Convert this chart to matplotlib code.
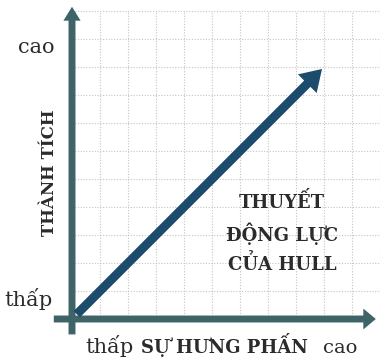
import matplotlib
matplotlib.use("Agg")
import matplotlib.pyplot as plt
from matplotlib.patches import FancyArrowPatch

# Hull's drive theory: performance rises linearly with arousal
# (units = grid cells, 0 = low, 9 = high)
arousal = [0, 9]
performance = [0, 9]
grid_x = list(range(1, 12))
grid_y = list(range(1, 12))

title = "THUYẾT\nĐỘNG LỰC\nCỦA HULL"
x_label = "SỰ HƯNG PHẤN"
y_label = "THÀNH TÍCH"
low_label = "thấp"
high_label = "cao"

axis_color = "#3e6467"
line_color = "#1b4c6c"
text_color = "#2b2b2b"
font = "DejaVu Serif"

fig = plt.figure(figsize=(3.8, 3.59), dpi=100)
ax = fig.add_axes([0, 0, 1, 1])
ax.set_xlim(-72 / 28, 308 / 28)
ax.set_ylim(-40 / 28, 319 / 28)
ax.axis("off")

# dotted background grid
for gx in grid_x:
    ax.plot([gx, gx], [0, 10.95], ls=(0, (1, 1.5)), color="#c4c4c4", lw=0.8, zorder=1)
for gy in grid_y:
    ax.plot([0, 11], [gy, gy], ls=(0, (1, 1.5)), color="#c4c4c4", lw=0.8, zorder=1)

# axes arrows
ax.add_patch(FancyArrowPatch(
    (0, -0.65), (0, 11.25),
    arrowstyle="simple,head_length=0.5,head_width=0.62,tail_width=0.25",
    mutation_scale=20, color=axis_color, lw=0, zorder=3))
ax.add_patch(FancyArrowPatch(
    (-0.75, 0), (10.95, 0),
    arrowstyle="simple,head_length=0.45,head_width=0.75,tail_width=0.25",
    mutation_scale=20, color=axis_color, lw=0, zorder=3))

# the relationship
ax.add_patch(FancyArrowPatch(
    (arousal[0] + 0.1, performance[0] + 0.1), (arousal[1], performance[1]),
    arrowstyle="simple,head_length=0.75,head_width=0.95,tail_width=0.32",
    mutation_scale=20, color=line_color, lw=0, zorder=4))

# labels
ax.text(-1.28, 9.68, high_label, ha="center", va="center", fontsize=15,
        family=font, color=text_color)
ax.text(-1.55, 0.7, low_label, ha="center", va="center", fontsize=15,
        family=font, color=text_color)
ax.text(1.35, -0.98, low_label, ha="center", va="center", fontsize=15,
        family=font, color=text_color)
ax.text(9.57, -1.05, high_label, ha="center", va="center", fontsize=14,
        family=font, color=text_color)
ax.text(5.46, -0.93, x_label, ha="center", va="center", fontsize=13,
        family=font, fontweight="bold", color=text_color)
ax.text(-0.82, 5.21, y_label, ha="center", va="center", fontsize=12,
        family=font, fontweight="bold", color=text_color, rotation=90)
ax.text(7.5, 3.07, title, ha="center", va="center", fontsize=13,
        family=font, fontweight="bold", color=text_color, linespacing=1.55,
        zorder=5)

fig.savefig("out.png", dpi=100)
plt.close(fig)
